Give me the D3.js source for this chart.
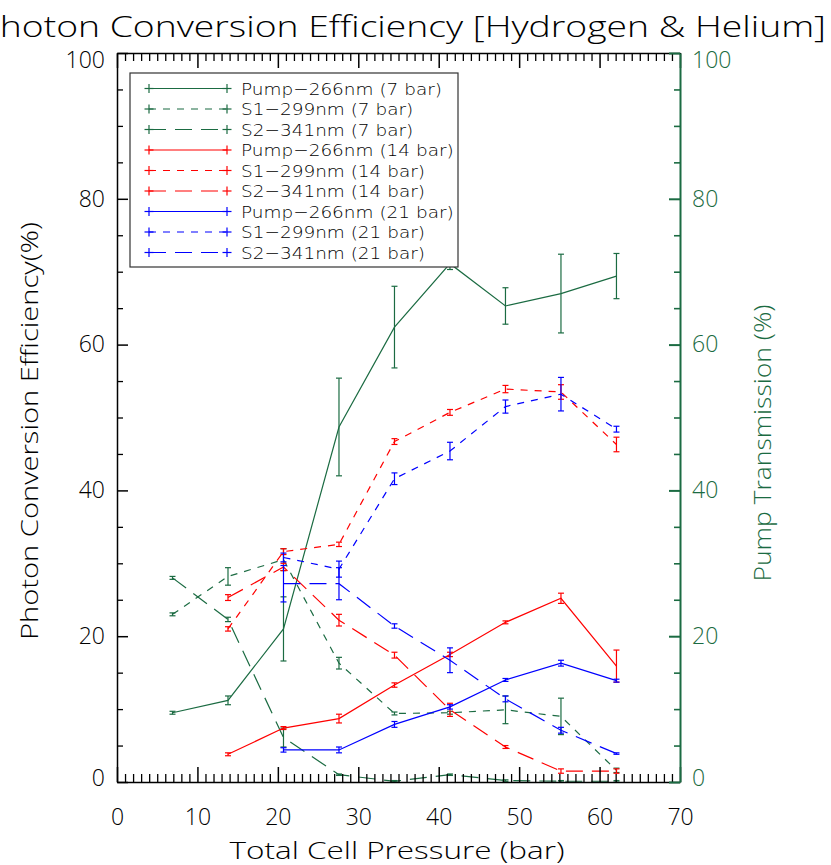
<!DOCTYPE html>
<html>
<head>
<meta charset="utf-8">
<script src="https://cdn.jsdelivr.net/npm/d3@7"></script>
<style>
  html, body { margin: 0; padding: 0; background: #fff; }
  svg { display: block; }
  text { font-family: "Open Sans", "DejaVu Sans", sans-serif; font-weight: 300; }
</style>
</head>
<body>
<svg id="chart" width="831" height="865"></svg>
<script>
// ---------------- data ----------------
const pressure = [6.9, 13.8, 20.7, 27.6, 34.5, 41.4, 48.3, 55.2, 62.1];

const pump7    = [9.5, 11.2, 21.0, 48.7, 62.4, 71.1, 65.3, 67.0, 69.4];
const pump7Err = [0.2, 0.6, 4.4, 6.7, 5.6, 0.8, 2.5, 5.4, 3.1];
const s1_7     = [23.0, 28.2, 30.5, 16.3, 9.4, 9.5, 9.9, 9.0, 1.6];
const s1_7Err  = [0.2, 1.2, 1.5, 0.8, 0.2, 0.2, 1.9, 2.5, 0.3];
const s2_7     = [28.0, 22.3, 6.1, 1.0, 0.1, 1.0, 0.2, 0.1, 0.1];
const s2_7Err  = [0.2, 0.3, 1.3, 0.1, 0.1, 0.1, 0.1, 0.1, 0.1];

const pump14    = [null, 3.8, 7.4, 8.7, 13.3, 17.5, 21.9, 25.2, 15.9];
const pump14Err = [null, 0.2, 0.2, 0.6, 0.3, 0.3, 0.2, 0.7, 2.2];
const s1_14     = [null, 21.0, 31.6, 32.6, 46.7, 50.7, 53.9, 53.5, 46.3];
const s1_14Err  = [null, 0.3, 0.4, 0.3, 0.4, 0.4, 0.5, 1.0, 1.0];
const s2_14     = [null, 25.3, 29.5, 22.2, 17.4, 9.9, 4.8, 1.5, 1.5];
const s2_14Err  = [null, 0.4, 0.5, 0.8, 0.4, 0.9, 0.2, 0.3, 0.3];

const pump21    = [null, null, 4.4, 4.4, 7.9, 10.3, 14.0, 16.3, 13.9];
const pump21Err = [null, null, 0.3, 0.4, 0.4, 0.3, 0.2, 0.4, 0.2];
const s1_21     = [null, null, 30.8, 29.2, 41.6, 45.4, 51.5, 53.2, 48.4];
const s1_21Err  = [null, null, 0.6, 1.1, 0.8, 1.2, 0.9, 2.3, 0.4];
const s2_21     = [null, null, 27.2, 27.2, 21.4, 16.7, 11.4, 7.1, 3.9];
const s2_21Err  = [null, null, 2.5, 2.2, 0.3, 1.7, 0.4, 0.4, 0.1];

const seriesLabels = [
  "Pump\u2212266nm (7 bar)", "S1\u2212299nm (7 bar)", "S2\u2212341nm (7 bar)",
  "Pump\u2212266nm (14 bar)", "S1\u2212299nm (14 bar)", "S2\u2212341nm (14 bar)",
  "Pump\u2212266nm (21 bar)", "S1\u2212299nm (21 bar)", "S2\u2212341nm (21 bar)"
];
const xMajorTicks = [0, 10, 20, 30, 40, 50, 60, 70];
const yMajorTicks = [0, 20, 40, 60, 80, 100];

const titleText = "Photon Conversion Efficiency [Hydrogen & Helium]";
const xTitle = "Total Cell Pressure (bar)";
const yTitle = "Photon Conversion Efficiency(%)";
const y2Title = "Pump Transmission (%)";

// ---------------- styles ----------------
const GREEN = "#1b6b42", RED = "#ff0000", BLUE = "#0000ff";
const SOLID = null, SHORT = "7,7", LONG = "17,9";

const series = [
  {v: pump7,  e: pump7Err,  c: GREEN, d: SOLID},
  {v: s1_7,   e: s1_7Err,   c: GREEN, d: SHORT},
  {v: s2_7,   e: s2_7Err,   c: GREEN, d: LONG},
  {v: pump14, e: pump14Err, c: RED,   d: SOLID},
  {v: s1_14,  e: s1_14Err,  c: RED,   d: SHORT},
  {v: s2_14,  e: s2_14Err,  c: RED,   d: LONG},
  {v: pump21, e: pump21Err, c: BLUE,  d: SOLID},
  {v: s1_21,  e: s1_21Err,  c: BLUE,  d: SHORT},
  {v: s2_21,  e: s2_21Err,  c: BLUE,  d: LONG}
].map((s, i) => Object.assign(s, {label: seriesLabels[i]}));

// ---------------- layout ----------------
const svg = d3.select("#chart");
const L = 117, R = 680, T = 53, B = 782;
const x = d3.scaleLinear().domain([0, 70]).range([L, R]);
const y = d3.scaleLinear().domain([0, 100]).range([B, T]);

// data
const line = d3.line()
  .defined(d => d.v != null)
  .x(d => x(d.p)).y(d => y(d.v));

series.forEach(s => {
  const pts = pressure.map((p, i) => ({p, v: s.v[i], e: s.e[i]}));
  svg.append("path")
    .datum(pts)
    .attr("fill", "none")
    .attr("stroke", s.c)
    .attr("stroke-width", 1.2)
    .attr("stroke-dasharray", s.d)
    .attr("d", line);
  const eb = svg.append("g").attr("stroke", s.c).attr("stroke-width", 1.2);
  pts.filter(d => d.v != null).forEach(d => {
    const xx = x(d.p), y1 = y(d.v - d.e), y2 = y(d.v + d.e);
    eb.append("line").attr("x1", xx).attr("x2", xx).attr("y1", y1).attr("y2", y2);
    eb.append("line").attr("x1", xx - 3).attr("x2", xx + 3).attr("y1", y1).attr("y2", y1);
    eb.append("line").attr("x1", xx - 3).attr("x2", xx + 3).attr("y1", y2).attr("y2", y2);
  });
});

// ---------------- axes ----------------
function styleAxis(g, color, width) {
  g.selectAll("path, line").attr("stroke", color).attr("stroke-width", width);
  g.selectAll("text").attr("fill", color).attr("font-size", 23)
    .style("font-family", "'Open Sans','DejaVu Sans',sans-serif").style("font-weight", 300);
}
// IDL-style nudging of the end labels on the vertical axes
function nudgeEnds(g) {
  g.selectAll(".tick text").attr("dy", d => d === 100 ? "0.62em" : d === 0 ? "0.14em" : "0.32em");
}
const minorX = d3.range(0, 71, 1).filter(v => v % 10 !== 0);
const minorY = d3.range(0, 101, 5).filter(v => v % 20 !== 0);

// bottom
const gb = svg.append("g").attr("transform", `translate(0,${B})`)
  .call(d3.axisBottom(x).tickValues(xMajorTicks).tickSize(-15).tickSizeOuter(0).tickPadding(27).tickFormat(d3.format("d")));
styleAxis(gb, "#000", 1.5);
const gbm = svg.append("g").attr("transform", `translate(0,${B})`)
  .call(d3.axisBottom(x).tickValues(minorX).tickSize(-8).tickFormat(""));
gbm.select(".domain").remove();
styleAxis(gbm, "#000", 1.3);

// top
const gt = svg.append("g").attr("transform", `translate(0,${T})`)
  .call(d3.axisTop(x).tickValues(xMajorTicks).tickSize(-15).tickSizeOuter(0).tickFormat(""));
styleAxis(gt, "#000", 1.5);
const gtm = svg.append("g").attr("transform", `translate(0,${T})`)
  .call(d3.axisTop(x).tickValues(minorX).tickSize(-8).tickFormat(""));
gtm.select(".domain").remove();
styleAxis(gtm, "#000", 1.3);

// left
const gl = svg.append("g").attr("transform", `translate(${L},0)`)
  .call(d3.axisLeft(y).tickValues(yMajorTicks).tickSize(-11).tickSizeOuter(0).tickPadding(12).tickFormat(d3.format("d")));
styleAxis(gl, "#000", 1.5);
nudgeEnds(gl);
const glm = svg.append("g").attr("transform", `translate(${L},0)`)
  .call(d3.axisLeft(y).tickValues(minorY).tickSize(-6).tickFormat(""));
glm.select(".domain").remove();
styleAxis(glm, "#000", 1.3);

// right (green)
const gr = svg.append("g").attr("transform", `translate(${R},0)`)
  .call(d3.axisRight(y).tickValues(yMajorTicks).tickSize(-11).tickSizeOuter(0).tickPadding(12).tickFormat(d3.format("d")));
styleAxis(gr, GREEN, 2);
nudgeEnds(gr);
const grm = svg.append("g").attr("transform", `translate(${R},0)`)
  .call(d3.axisRight(y).tickValues(minorY).tickSize(-6).tickFormat(""));
grm.select(".domain").remove();
styleAxis(grm, GREEN, 1.6);

// ---------------- titles ----------------
svg.append("text")
  .attr("x", 402).attr("y", 37)
  .attr("text-anchor", "middle")
  .attr("font-size", 29)
  .attr("textLength", 848).attr("lengthAdjust", "spacingAndGlyphs")
  .attr("fill", "#000")
  .text(titleText);

svg.append("text")
  .attr("x", 397).attr("y", 859)
  .attr("text-anchor", "middle")
  .attr("font-size", 24)
  .attr("textLength", 335).attr("lengthAdjust", "spacingAndGlyphs")
  .attr("fill", "#000")
  .text(xTitle);

svg.append("text")
  .attr("transform", "translate(38,431) rotate(-90)")
  .attr("text-anchor", "middle")
  .attr("font-size", 24)
  .attr("textLength", 418).attr("lengthAdjust", "spacingAndGlyphs")
  .attr("fill", "#000")
  .text(yTitle);

svg.append("text")
  .attr("transform", "translate(771,443) rotate(-90)")
  .attr("text-anchor", "middle")
  .attr("font-size", 24)
  .attr("textLength", 277).attr("lengthAdjust", "spacingAndGlyphs")
  .attr("fill", GREEN)
  .text(y2Title);

// ---------------- legend ----------------
const lg = svg.append("g");
lg.append("rect")
  .attr("x", 130).attr("y", 73).attr("width", 328).attr("height", 194)
  .attr("fill", "#fff").attr("stroke", "#333").attr("stroke-width", 1.2);
const legendTexts = [];
series.forEach((s, i) => {
  const yy = 88.5 + i * 20.5;
  const row = lg.append("g").attr("stroke", s.c).attr("stroke-width", 1.2);
  row.append("line").attr("x1", 149).attr("x2", 227).attr("y1", yy).attr("y2", yy)
    .attr("stroke-dasharray", s.d);
  [149, 227].forEach(px => {
    row.append("line").attr("x1", px - 4.5).attr("x2", px + 4.5).attr("y1", yy).attr("y2", yy);
    row.append("line").attr("x1", px).attr("x2", px).attr("y1", yy - 4.5).attr("y2", yy + 4.5);
  });
  legendTexts.push(lg.append("text")
    .attr("x", 241).attr("y", yy + 6)
    .attr("font-size", 16.5)
    .style("font-family", "'DejaVu Sans',sans-serif")
    .style("font-weight", 300)
    .attr("fill", "#000")
    .text(s.label));
});
// stretch legend texts to the reference's wide vector-font width
const w0 = legendTexts[0].node().getComputedTextLength();
const k = 201 / w0;
legendTexts.forEach(t => {
  const w = t.node().getComputedTextLength();
  t.attr("textLength", w * k).attr("lengthAdjust", "spacingAndGlyphs");
});
</script>
</body>
</html>
